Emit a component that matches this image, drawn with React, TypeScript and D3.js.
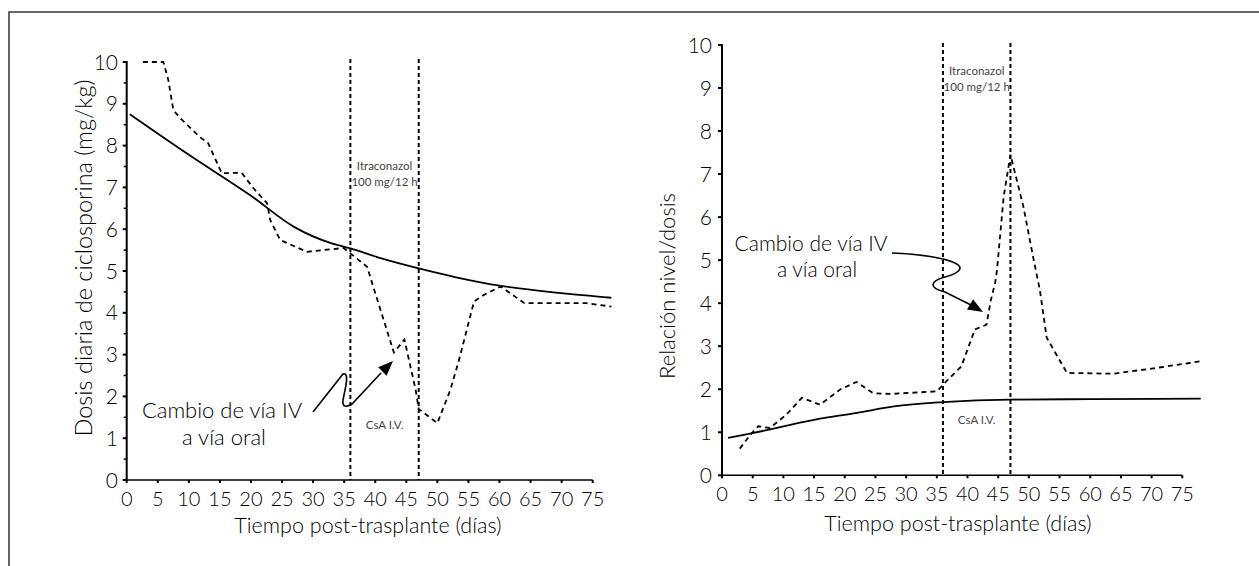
import React from "react";
import * as d3 from "d3";

// ---- Data ----
const xTicks = [0, 5, 10, 15, 20, 25, 30, 35, 40, 45, 50, 55, 60, 65, 70, 75];
const yTicks = [0, 1, 2, 3, 4, 5, 6, 7, 8, 9, 10];
const yMinorTicksLeft = [0.5, 1.5, 2.5, 3.5, 4.5, 5.5, 6.5, 7.5, 8.5, 9.5];
const itraconazolStart = 36;
const itraconazolEnd = 47;

// Left: daily dose (mg/kg)
const doseMeanDays = [0.5, 10, 20, 27, 33, 36, 41, 47, 53, 60, 70, 78];
const doseMeanVals = [8.75, 7.78, 6.8, 6.05, 5.66, 5.54, 5.3, 5.06, 4.85, 4.65, 4.47, 4.36];

const doseCaseDays = [2.6, 5.9, 6.7, 7.5, 8.6, 11.8, 13.1, 15.3, 18.5, 20.4, 22.6, 23.1, 24.7, 29, 34.9, 38.7, 39.5, 43, 44.7, 46.5, 47, 50, 52.1, 53.5, 55.9, 57.5, 60.2, 64, 74, 78];
const doseCaseVals = [10, 10, 9.57, 8.85, 8.66, 8.2, 8.06, 7.34, 7.35, 6.98, 6.62, 6.22, 5.74, 5.46, 5.55, 5.1, 4.71, 3.05, 3.36, 2.16, 1.7, 1.36, 2.16, 2.88, 4.27, 4.43, 4.63, 4.23, 4.23, 4.15];

// Right: level/dose ratio
const ratioMeanDays = [1, 5, 15, 22, 28, 36, 47, 60, 78];
const ratioMeanVals = [0.87, 0.98, 1.29, 1.45, 1.6, 1.7, 1.76, 1.77, 1.78];

const ratioCaseDays = [2.9, 4.6, 5.9, 7.8, 10.5, 13, 16, 19.2, 21.9, 24.6, 27.4, 35, 36.3, 38.5, 39, 41.2, 43.1, 43.8, 44.5, 44.8, 45.9, 47, 49.1, 50.7, 51.8, 52.9, 56.2, 63.7, 70, 76.2, 78];
const ratioCaseVals = [0.62, 0.94, 1.14, 1.1, 1.41, 1.8, 1.64, 1.99, 2.17, 1.91, 1.89, 1.95, 2.15, 2.46, 2.53, 3.39, 3.5, 4.07, 4.47, 4.76, 6.48, 7.45, 6.25, 5.07, 4.3, 3.2, 2.38, 2.36, 2.48, 2.61, 2.65];

const FONT = "Lato, 'Open Sans', sans-serif";
const FW = 300;

type PanelProps = {
  x0: number; x75: number; y0: number; y10: number;
  meanDays: number[]; meanVals: number[];
  caseDays: number[]; caseVals: number[];
  minor: boolean;
  yLabelX: number;
  vTop: number;
  itraY: number;
};

function Panel(p: PanelProps) {
  const x = d3.scaleLinear().domain([0, 75]).range([p.x0, p.x75]);
  const y = d3.scaleLinear().domain([0, 10]).range([p.y0, p.y10]);
  const line = d3.line<[number, number]>().x(d => x(d[0])).y(d => y(d[1]));
  const smooth = d3.line<[number, number]>().x(d => x(d[0])).y(d => y(d[1])).curve(d3.curveMonotoneX);
  const meanPts = p.meanDays.map((d, i) => [d, p.meanVals[i]] as [number, number]);
  const casePts = p.caseDays.map((d, i) => [d, p.caseVals[i]] as [number, number]);
  const xa = x(itraconazolStart), xb = x(itraconazolEnd);
  const mid = (xa + xb) / 2;
  return (
    <g>
      {/* axes */}
      <line x1={p.x0} x2={p.x0} y1={p.y0 + 1} y2={p.y10 - 1} stroke="#000" strokeWidth={2} />
      <line x1={p.x0 - 1} x2={p.x75} y1={p.y0} y2={p.y0} stroke="#000" strokeWidth={1.5} />
      {yTicks.map(t => (
        <g key={"y" + t}>
          <line x1={p.x0 - 4} x2={p.x0} y1={y(t)} y2={y(t)} stroke="#000" strokeWidth={2} />
          <text x={p.yLabelX} y={y(t)} dy="0.36em" textAnchor="end" fontSize={21} fontWeight={FW} fontFamily={FONT}>{t}</text>
        </g>
      ))}
      {p.minor && yMinorTicksLeft.map(t => (
        <line key={"m" + t} x1={p.x0 - 3} x2={p.x0} y1={y(t)} y2={y(t)} stroke="#000" strokeWidth={1.5} />
      ))}
      {xTicks.map(t => (
        <g key={"x" + t}>
          <line x1={x(t)} x2={x(t)} y1={p.y0} y2={p.y0 + 3} stroke="#000" strokeWidth={2} />
          <text x={x(t)} y={p.y0 + 26} textAnchor="middle" fontSize={20} fontWeight={FW} fontFamily={FONT}>{t}</text>
        </g>
      ))}
      {/* Itraconazol period */}
      <line x1={xa} x2={xa} y1={p.vTop} y2={p.y0} stroke="#000" strokeWidth={2} strokeDasharray="4,3" />
      <line x1={xb} x2={xb} y1={p.vTop} y2={p.y0} stroke="#000" strokeWidth={2} strokeDasharray="4,3" />
      <text x={mid} y={p.itraY} textAnchor="middle" fontSize={11.5} fill="#444" fontFamily={FONT}>Itraconazol</text>
      <text x={mid} y={p.itraY + 16} textAnchor="middle" fontSize={11.5} fill="#444" fontFamily={FONT}>100 mg/12 h</text>
      <text x={mid} y={p.y0 - 51} textAnchor="middle" fontSize={11.5} fill="#444" fontFamily={FONT}>CsA I.V.</text>
      {/* series */}
      <path d={smooth(meanPts) || ""} fill="none" stroke="#000" strokeWidth={1.8} />
      <path d={line(casePts) || ""} fill="none" stroke="#000" strokeWidth={1.8} strokeDasharray="5,4" />
    </g>
  );
}

function arrowHead(tipX: number, tipY: number, fromX: number, fromY: number, len = 15, half = 6) {
  const dx = tipX - fromX, dy = tipY - fromY;
  const n = Math.hypot(dx, dy);
  const ux = dx / n, uy = dy / n;
  const bx = tipX - ux * len, by = tipY - uy * len;
  const px = -uy * half, py = ux * half;
  return `M${tipX},${tipY}L${bx + px},${by + py}L${bx - px},${by - py}Z`;
}

export default function App() {
  return (
    <svg width={1259} height={566} style={{ position: "absolute", left: 0, top: 0, background: "#fff" }}>
      <rect x={9} y={12} width={1300} height={600} fill="none" stroke="#333" strokeWidth={1.5} />
      <Panel x0={126.7} x75={592.7} y0={480} y10={62}
        meanDays={doseMeanDays} meanVals={doseMeanVals}
        caseDays={doseCaseDays} caseVals={doseCaseVals}
        minor={true} yLabelX={118} vTop={59} itraY={170} />
      <Panel x0={722} x75={1182.3} y0={475.3} y10={45}
        meanDays={ratioMeanDays} meanVals={ratioMeanVals}
        caseDays={ratioCaseDays} caseVals={ratioCaseVals}
        minor={false} yLabelX={712} vTop={43} itraY={75} />

      {/* axis titles */}
      <text transform="translate(92,258) rotate(-90)" textAnchor="middle" fontSize={23.5} fontWeight={FW} fontFamily={FONT}>Dosis diaria de ciclosporina (mg/kg)</text>
      <text x={368} y={533} textAnchor="middle" fontSize={21.5} fontWeight={FW} fontFamily={FONT}>Tiempo post-trasplante (días)</text>
      <text transform="translate(675,286) rotate(-90)" textAnchor="middle" fontSize={22} fontWeight={FW} fontFamily={FONT}>Relación nivel/dosis</text>
      <text x={958} y={531} textAnchor="middle" fontSize={21.5} fontWeight={FW} fontFamily={FONT}>Tiempo post-trasplante (días)</text>

      {/* left annotation */}
      <text x={222} y={418} textAnchor="middle" fontSize={22} fontWeight={FW} fontFamily={FONT}>Cambio de vía IV</text>
      <text x={224} y={445} textAnchor="middle" fontSize={22} fontWeight={FW} fontFamily={FONT}>a vía oral</text>
      <path d="M313,412 L343,374 Q348,372 346,385 L343,400 Q342,410 352,404 L381,373" fill="none" stroke="#000" strokeWidth={1.6} />
      <path d={arrowHead(393, 361, 381, 373)} fill="#000" />

      {/* right annotation */}
      <text x={811} y={251} textAnchor="middle" fontSize={21} fontWeight={FW} fontFamily={FONT}>Cambio de vía IV</text>
      <text x={817} y={277} textAnchor="middle" fontSize={21} fontWeight={FW} fontFamily={FONT}>a vía oral</text>
      <path d="M892,253 C920,254 945,258 955,263 C966,268 957,274 945,277 C930,281 928,288 945,292 L971,305" fill="none" stroke="#000" strokeWidth={1.6} />
      <path d={arrowHead(983, 312, 971, 305)} fill="#000" />
    </svg>
  );
}
